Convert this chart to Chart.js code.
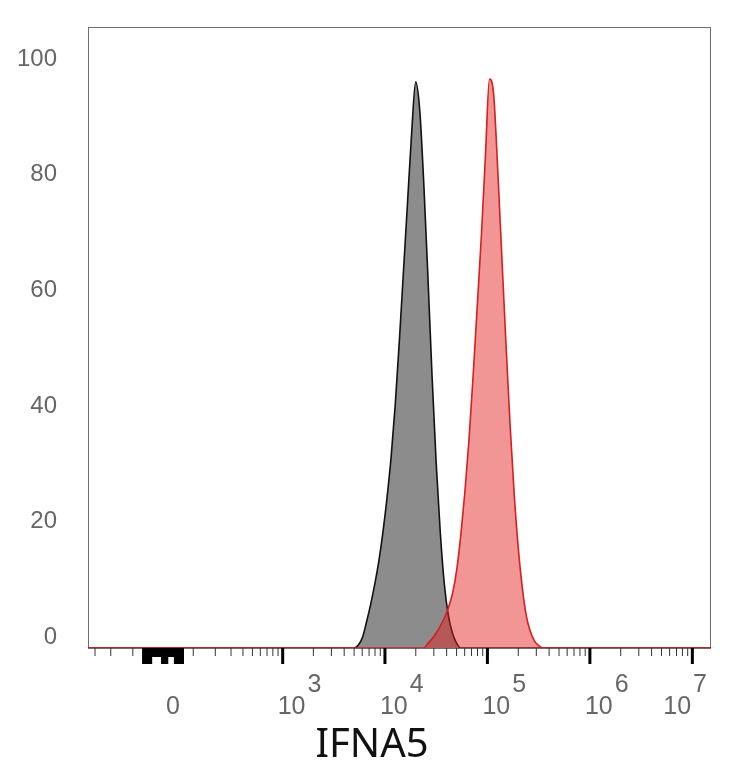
<!DOCTYPE html>
<html>
<head>
<meta charset="utf-8">
<script src="https://cdn.jsdelivr.net/npm/chart.js@4.4.1/dist/chart.umd.min.js"></script>
<style>
  html, body { margin: 0; padding: 0; background: #fff; }
  #wrap { width: 734px; height: 768px; position: relative; }
</style>
</head>
<body>
<div id="wrap"><canvas id="histChart"></canvas></div>
<script>
// histogram bins, log10 of intensity
const isoLog = [3.70, 3.74, 3.78, 3.82, 3.86, 3.90, 3.94, 3.98, 4.02, 4.06, 4.10, 4.14, 4.18, 4.22,
                4.26, 4.30, 4.34, 4.38, 4.42, 4.46, 4.50, 4.54, 4.58, 4.62, 4.66, 4.70, 4.74];
const isoPct = [0, 0.5, 1.8, 4.5, 7.5, 11, 15, 20, 26, 33, 42, 53, 65, 77,
                89, 98, 93, 80, 64, 47, 32, 20, 11, 5.5, 2.5, 0.8, 0];

const ifnLog = [4.38, 4.42, 4.46, 4.50, 4.54, 4.58, 4.62, 4.66, 4.70, 4.74, 4.78, 4.82, 4.86, 4.90, 4.94,
                4.98, 5.02, 5.06, 5.10, 5.14, 5.18, 5.22, 5.26, 5.30, 5.34, 5.38, 5.42, 5.46, 5.50, 5.54];
const ifnPct = [0, 0.8, 1.6, 2.6, 3.8, 5.2, 7, 9.5, 13.5, 19.5, 27, 36, 47, 59, 71,
                85, 98.5, 96, 83, 68, 53, 39, 27, 17.5, 10.5, 5.5, 2.8, 1.2, 0.4, 0];

// axes
const xRange = [-356, 1.52e7];
const xLabelValues = [0, 1e3, 1e4, 1e5, 1e6, 1e7];
const xLabelExps = [null, '3', '4', '5', '6', '7'];
const yTicks = [0, 20, 40, 60, 80, 100];
const xTitle = 'IFNA5';

// biexponential-ish display transform (asinh)
const W = 136.6;
function biex(v) { return Math.asinh(v / W) / Math.LN10; }

// tick marks under the x axis
const majorTicks = [1e3, 1e4, 1e5, 1e6, 1e7];
const minorTicks = [];
for (let m = 1; m <= 9; m++) { minorTicks.push(m * 100); minorTicks.push(-m * 100); }
for (let n = 3; n <= 6; n++) {
  for (let m = 2; m <= 9; m++) minorTicks.push(m * Math.pow(10, n));
}
const zeroTicksLong = [-60, -50, -40, 0, 10, 40, 50, 60];
const zeroTicksShort = [-30, -20, -10, 20, 30];

function toPoints(logs, pct) {
  const pts = logs.map((l, i) => ({ x: biex(Math.pow(10, l)), y: pct[i] }));
  pts.unshift({ x: biex(xRange[0]), y: 0 });
  pts.push({ x: biex(xRange[1]), y: 0 });
  return pts;
}

const axisDeco = {
  id: 'axisDeco',
  beforeDatasetsDraw(chart) {
    const { ctx, chartArea: a } = chart;
    ctx.save();
    ctx.strokeStyle = '#6e6e6e';
    ctx.lineWidth = 1;
    ctx.strokeRect(a.left + 0.5, a.top + 0.5, a.right - a.left - 1, a.bottom - a.top);
    ctx.restore();
  },
  afterDraw(chart) {
    const { ctx, chartArea: a } = chart;
    const xs = chart.scales.x;
    const px = v => xs.getPixelForValue(biex(v));
    const tick = (v, len, w, color) => {
      const p = px(v);
      if (p < a.left || p > a.right) return;
      ctx.strokeStyle = color;
      ctx.lineWidth = w;
      ctx.beginPath();
      ctx.moveTo(p, a.bottom);
      ctx.lineTo(p, a.bottom + len);
      ctx.stroke();
    };
    ctx.save();
    minorTicks.forEach(v => tick(v, 8, 1, '#333'));
    majorTicks.forEach(v => tick(v, 16, 3, '#000'));
    zeroTicksLong.forEach(v => tick(v, 16, 4, '#000'));
    zeroTicksShort.forEach(v => tick(v, 9, 4, '#000'));

    // x labels: 0 and 10^n
    ctx.fillStyle = '#666';
    ctx.font = '25px "Liberation Sans", Arial, sans-serif';
    ctx.textBaseline = 'alphabetic';
    const base = a.bottom + 66;
    xLabelValues.forEach((v, i) => {
      const p = px(v);
      const exp = xLabelExps[i];
      if (exp === null) {
        ctx.textAlign = 'center';
        ctx.fillText('0', p + 10, base);
        return;
      }
      ctx.textAlign = 'left';
      const w10 = ctx.measureText('10').width;
      const wExp = ctx.measureText(exp).width;
      let left = p - 5;
      if (left + w10 + 2 + wExp > a.right - 4) left = a.right - 4 - w10 - 2 - wExp;
      ctx.fillText('10', left, base);
      ctx.fillText(exp, left + w10 + 2, base - 22);
    });

    // axis title
    ctx.fillStyle = '#111';
    ctx.font = '40px "Noto Sans", "Open Sans", sans-serif';
    ctx.textAlign = 'center';
    ctx.fillText(xTitle, a.left + 284, a.bottom + 109);
    ctx.restore();
  }
};

const ctx = document.getElementById('histChart').getContext('2d');
const histChart = new Chart(ctx, {
  type: 'scatter',
  data: {
    datasets: [
      {
        label: xTitle,
        data: toPoints(ifnLog, ifnPct),
        showLine: true,
        pointRadius: 0,
        borderColor: '#d81e1e',
        borderWidth: 1.6,
        backgroundColor: 'rgba(225, 30, 30, 0.47)',
        fill: 'origin',
        cubicInterpolationMode: 'monotone',
        order: 0
      },
      {
        label: 'Isotype control',
        data: toPoints(isoLog, isoPct),
        showLine: true,
        pointRadius: 0,
        borderColor: '#111',
        borderWidth: 1.6,
        backgroundColor: 'rgba(128, 128, 128, 0.9)',
        fill: 'origin',
        cubicInterpolationMode: 'monotone',
        order: 1
      }
    ]
  },
  options: {
    responsive: true,
    maintainAspectRatio: false,
    animation: false,
    layout: { padding: { left: 0, right: 23, top: 27, bottom: 0 } },
    plugins: {
      legend: { display: false },
      tooltip: { enabled: false }
    },
    scales: {
      x: {
        type: 'linear',
        min: biex(xRange[0]),
        max: biex(xRange[1]),
        grid: { display: false },
        border: { display: false },
        ticks: { display: false },
        afterFit(scale) {
          scale.height = 120;
          scale.paddingLeft = 0; scale.paddingRight = 0;
        }
      },
      y: {
        min: 0,
        max: 107.5,
        grid: { display: false, drawTicks: false },
        border: { display: false },
        ticks: {
          padding: 31,
          labelOffset: -11,
          color: '#666',
          font: { family: '"Liberation Sans", Arial, sans-serif', size: 24 }
        },
        afterBuildTicks(scale) { scale.ticks = yTicks.map(v => ({ value: v })); },
        afterFit(scale) {
          scale.width = 88;
          scale.paddingTop = 0; scale.paddingBottom = 0;
        }
      }
    }
  },
  plugins: [axisDeco]
});
</script>
</body>
</html>
